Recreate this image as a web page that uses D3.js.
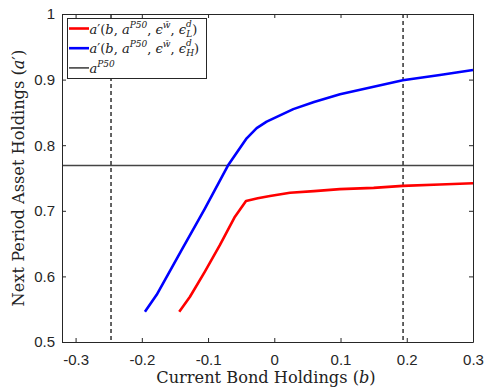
<!DOCTYPE html>
<html>
<head>
<meta charset="utf-8">
<script src="https://cdn.jsdelivr.net/npm/d3@7"></script>
<style>
  html, body { margin: 0; padding: 0; background: #fff; }
  svg { display: block; }
  .tick text { font-family: "Liberation Sans", Arial, sans-serif; font-size: 15px; fill: #262626; }
  .math { font-family: "DejaVu Serif", serif; fill: #222; }
</style>
</head>
<body>
<svg id="chart" width="485" height="389"></svg>
<script>
// Policy function for next-period asset holdings, low deposit shock
const bLow = [-0.1435, -0.1273, -0.105, -0.082, -0.0594, -0.0427, -0.025, -0.0065, 0.0237, 0.06, 0.099, 0.15, 0.194, 0.25, 0.3];
const aLow = [0.546, 0.569, 0.607, 0.648, 0.691, 0.715, 0.719, 0.7226, 0.7276, 0.730, 0.733, 0.735, 0.738, 0.740, 0.742];

// Policy function, high deposit shock
const bHigh = [-0.1953, -0.1776, -0.14, -0.105, -0.07, -0.0417, -0.0266, -0.0115, 0.0287, 0.06, 0.0992, 0.15, 0.194, 0.25, 0.3];
const aHigh = [0.546, 0.572, 0.640, 0.703, 0.769, 0.8105, 0.826, 0.836, 0.855, 0.866, 0.8776, 0.889, 0.899, 0.907, 0.9146];

// Median asset holdings and borrowing-limit markers
const aP50 = 0.769;
const bMarkers = [-0.2465, 0.1944];

const xTicks = [-0.3, -0.2, -0.1, 0, 0.1, 0.2, 0.3];
const xTickLabels = ["-0.3", "-0.2", "-0.1", "0", "0.1", "0.2", "0.3"];
const yTicks = [0.5, 0.6, 0.7, 0.8, 0.9, 1];
const yTickLabels = ["0.5", "0.6", "0.7", "0.8", "0.9", "1"];

const svg = d3.select("#chart");
const plotLeft = 62, plotRight = 473, plotTop = 14, plotBottom = 342;

const x = d3.scaleLinear().domain([-0.3205, 0.3]).range([plotLeft, plotRight]);
const y = d3.scaleLinear().domain([0.5, 1]).range([plotBottom, plotTop]);

const axisColor = "#262626";

// Vertical dashed markers
svg.selectAll("line.marker").data(bMarkers).join("line")
  .attr("class", "marker")
  .attr("x1", d => x(d)).attr("x2", d => x(d))
  .attr("y1", y(1)).attr("y2", y(0.5))
  .attr("stroke", "#111").attr("stroke-width", 1.3)
  .attr("stroke-dasharray", "4,3");

// Horizontal median line
svg.append("line")
  .attr("x1", x.range()[0]).attr("x2", x.range()[1])
  .attr("y1", y(aP50)).attr("y2", y(aP50))
  .attr("stroke", "#444").attr("stroke-width", 1.6);

const line = d3.line().x(d => x(d[0])).y(d => y(d[1]));

svg.append("path")
  .datum(d3.zip(bLow, aLow))
  .attr("d", line).attr("fill", "none")
  .attr("stroke", "#ff0000").attr("stroke-width", 2.6)
  .attr("stroke-linejoin", "round");

svg.append("path")
  .datum(d3.zip(bHigh, aHigh))
  .attr("d", line).attr("fill", "none")
  .attr("stroke", "#0000ff").attr("stroke-width", 2.6)
  .attr("stroke-linejoin", "round");

// Axes with inward ticks, mirrored on the opposite sides
function styleAxis(g) {
  g.selectAll(".domain").attr("stroke", axisColor).attr("stroke-width", 1);
  g.selectAll(".tick line").attr("stroke", axisColor).attr("stroke-width", 1);
}

svg.append("g").attr("transform", `translate(0,${plotBottom})`)
  .call(d3.axisBottom(x).tickValues(xTicks).tickSizeInner(-4).tickSizeOuter(0)
    .tickPadding(12).tickFormat((d, i) => xTickLabels[i]))
  .call(styleAxis);

svg.append("g").attr("transform", `translate(0,${plotTop})`)
  .call(d3.axisTop(x).tickValues(xTicks).tickSizeInner(-4).tickSizeOuter(0).tickFormat(""))
  .call(styleAxis);

svg.append("g").attr("transform", `translate(${plotLeft},0)`)
  .call(d3.axisLeft(y).tickValues(yTicks).tickSizeInner(-4).tickSizeOuter(0)
    .tickPadding(7).tickFormat((d, i) => yTickLabels[i]))
  .call(styleAxis);

svg.append("g").attr("transform", `translate(${plotRight},0)`)
  .call(d3.axisRight(y).tickValues(yTicks).tickSizeInner(-4).tickSizeOuter(0).tickFormat(""))
  .call(styleAxis);

// Axis titles
const xt = svg.append("text").attr("class", "math")
  .attr("x", 266).attr("y", 383)
  .attr("text-anchor", "middle").attr("font-size", 16.2);
xt.append("tspan").text("Current Bond Holdings (");
xt.append("tspan").attr("font-style", "italic").text("b");
xt.append("tspan").text(")");

const yt = svg.append("text").attr("class", "math")
  .attr("transform", `translate(24,${178}) rotate(-90)`)
  .attr("text-anchor", "middle").attr("font-size", 16.2);
yt.append("tspan").text("Next Period Asset Holdings (");
yt.append("tspan").attr("font-style", "italic").text("a");
yt.append("tspan").text("′)");

// Legend
const legend = svg.append("g");
legend.append("rect")
  .attr("x", 67.5).attr("y", 18.5).attr("width", 139).attr("height", 60)
  .attr("fill", "#fff").attr("stroke", axisColor).attr("stroke-width", 1);

const entries = [
  { color: "#ff0000", sub: "L", kind: "policy" },
  { color: "#0000ff", sub: "H", kind: "policy" },
  { color: "#444", kind: "median" }
];
entries.forEach((e, i) => {
  const cy = 28.5 + i * 19.7;
  legend.append("line")
    .attr("x1", 69).attr("x2", 89).attr("y1", cy).attr("y2", cy)
    .attr("stroke", e.color).attr("stroke-width", e.kind === "median" ? 1.6 : 2.6);
  const t = legend.append("text").attr("class", "math")
    .attr("x", 89.5).attr("y", cy + 5).attr("font-size", 13);
  if (e.kind === "policy") {
    t.append("tspan").attr("font-style", "italic").text("a");
    t.append("tspan").text("′(");
    t.append("tspan").attr("font-style", "italic").text("b");
    t.append("tspan").text(", ");
    t.append("tspan").attr("font-style", "italic").text("a");
    t.append("tspan").attr("font-style", "italic").attr("font-size", 9).attr("dy", -6).text("P50");
    t.append("tspan").attr("dy", 6).text(", ");
    t.append("tspan").attr("font-style", "italic").text("ϵ");
    t.append("tspan").attr("font-style", "italic").attr("font-size", 9)
      .attr("dy", -6).text("w\u0304");
    t.append("tspan").attr("dy", 6).text(", ");
    t.append("tspan").attr("font-style", "italic").text("ϵ");
    t.append("tspan").attr("font-style", "italic").attr("font-size", 9)
      .attr("dy", -7).text("d");
    t.append("tspan").attr("font-style", "italic").attr("font-size", 9)
      .attr("dx", -5.5).attr("dy", 10).text(e.sub);
    t.append("tspan").attr("dy", -3).text(")");
  } else {
    t.append("tspan").attr("font-style", "italic").text("a");
    t.append("tspan").attr("font-style", "italic").attr("font-size", 9).attr("dy", -6).text("P50");
  }
});
</script>
</body>
</html>
